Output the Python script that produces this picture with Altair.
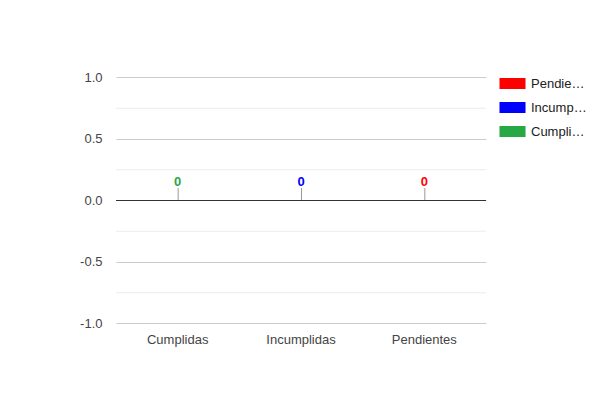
import altair as alt
import pandas as pd

categories = ["Cumplidas", "Incumplidas", "Pendientes"]
values = [0, 0, 0]
legend_order = ["Pendientes", "Incumplidas", "Cumplidas"]
legend_colors = ["#ff0000", "#0000ff", "#28a745"]
y_ticks = [-1.0, -0.5, 0.0, 0.5, 1.0]
minor_ticks = [-0.75, -0.25, 0.25, 0.75]
baseline_value = [0]

FONT = "Liberation Sans, Arial"

df = pd.DataFrame({"cat": categories, "val": values})
minor_df = pd.DataFrame({"y": minor_ticks})
base_df = pd.DataFrame({"y": baseline_value})

x_enc = alt.X(
    "cat:N",
    sort=categories,
    title=None,
    axis=alt.Axis(
        labelAngle=0, ticks=False, domain=False, labelFont=FONT,
        labelFontSize=13, labelColor="#444", labelPadding=10, grid=False,
    ),
)
y_scale = alt.Scale(domain=[-1, 1], nice=False, zero=False)
y_axis = alt.Axis(
    values=y_ticks,
    labelExpr="datum.value < 0 ? '-' + format(-datum.value, '.1f') : format(datum.value, '.1f')",
    ticks=False, domain=False, labelFont=FONT,
    labelFontSize=13, labelColor="#444", labelPadding=14, gridColor="#cccccc",
    title=None,
)

minor = alt.Chart(minor_df).mark_rule(color="#ebebeb", strokeWidth=1, yOffset=0.5).encode(
    y=alt.Y("y:Q", scale=y_scale, axis=y_axis)
)

zero = alt.Chart(base_df).mark_rule(color="#333333", strokeWidth=1, yOffset=0.5).encode(
    y=alt.Y("y:Q", scale=y_scale)
)

leaders = alt.Chart(df).mark_rule(color="#999999", strokeWidth=1, xOffset=0.5).encode(
    x=x_enc,
    y=alt.Y("val:Q", scale=y_scale),
    y2=alt.value(111),
)

labels = alt.Chart(df).mark_text(
    dy=-14, baseline="alphabetic", fontWeight="bold", fontSize=13, font=FONT
).encode(
    x=x_enc,
    y=alt.Y("val:Q", scale=y_scale),
    text=alt.Text("val:Q", format="d"),
    color=alt.Color(
        "cat:N",
        scale=alt.Scale(domain=legend_order, range=legend_colors),
        legend=alt.Legend(
            title=None,
            orient="none",
            legendX=390,
            legendY=0,
            symbolType="M-2.17,-0.92H2.17V0.92H-2.17Z",
            symbolSize=144,
            symbolStrokeWidth=0,
            symbolOpacity=1,
            labelOffset=12,
            labelFont=FONT,
            labelFontSize=13,
            labelColor="#222222",
            labelLimit=56,
            rowPadding=10,
            padding=0,
        ),
    ),
)

chart = (
    alt.layer(minor, zero, leaders, labels)
    .properties(
        width=370,
        height=246,
        background="white",
        autosize=alt.AutoSizeParams(type="none"),
        padding={"left": 108, "top": 69, "right": 106, "bottom": 61},
    )
    .configure_view(strokeWidth=0, stroke="transparent")
)

chart.save("out.html", embed_options={"renderer": "svg", "actions": False})
